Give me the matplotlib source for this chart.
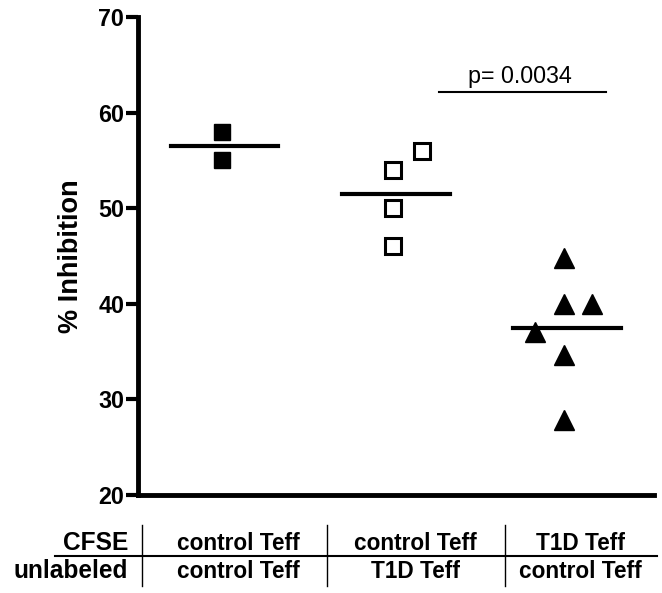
import numpy as np
import matplotlib
matplotlib.use('Agg')
import matplotlib.pyplot as plt
from matplotlib.lines import Line2D
from matplotlib import font_manager

names = set(f.name for f in font_manager.fontManager.ttflist)
narrow = 'Liberation Sans Narrow' in names
plt.rcParams['font.family'] = ['Liberation Sans Narrow', 'Liberation Sans', 'DejaVu Sans'] if narrow \
    else ['Liberation Sans', 'DejaVu Sans']
k = 1.0 if narrow else 0.93  # shrink a bit when no narrow face

# data
g1_x = [1.0, 1.0]
g1_y = [58, 55]
g2_x = [2.0, 2.17, 2.0, 2.0]
g2_y = [54, 56, 50, 46]
g3_x = [3.0, 3.0, 3.16, 2.83, 3.0, 3.0]
g3_y = [44.8, 40, 40, 37, 34.6, 27.8]
means = [56.5, 51.5, 37.5]
p_text = 'p= 0.0034'
row_names = ['CFSE', 'unlabeled']
cfse = ['control Teff', 'control Teff', 'T1D Teff']
unlabeled = ['control Teff', 'T1D Teff', 'control Teff']

fig = plt.figure(figsize=(6.62, 5.93), dpi=100)
ax = fig.add_axes([0.2085, 0.1653, 0.78, 0.806])

ax.plot(g1_x, g1_y, 's', color='k', markersize=11)
ax.plot(g2_x, g2_y, 's', markerfacecolor='white', markeredgecolor='k',
        markeredgewidth=2.2, markersize=11)
ax.plot(g3_x, g3_y, '^', color='k', markersize=14)

for i, m in enumerate(means):
    ax.plot([i + 1 - 0.3, i + 1 + 0.33], [m, m], color='k', lw=3)

# significance bar
ax.plot([2.27, 3.245], [62.2, 62.2], color='k', lw=1.5)
ax.text(2.74, 62.6, p_text, ha='center', va='bottom', fontsize=18 * k,
        fontweight='normal')

ax.set_xlim(0.51, 3.525)
ax.set_ylim(20, 70)
ax.set_yticks([20, 30, 40, 50, 60, 70])
ax.set_xticks([])
for s in ['top', 'right']:
    ax.spines[s].set_visible(False)
for s in ['left', 'bottom']:
    ax.spines[s].set_linewidth(3.5)
ax.tick_params(axis='y', direction='out', length=9, width=3, labelsize=18 * k, pad=1)
for lab in ax.get_yticklabels():
    lab.set_fontweight('bold')
ax.set_ylabel('% Inhibition', fontsize=21 * k, fontweight='bold', labelpad=10)

# table under the axis
W, H = 662, 593
def fx(px):
    return px / W
def fy(py):
    return 1 - py / H

fig.text(fx(128), fy(543), row_names[0], ha='right', va='center',
         fontsize=19 * k, fontweight='bold')
fig.text(fx(128), fy(571), row_names[1], ha='right', va='center',
         fontsize=19 * k, fontweight='bold')
centers = [238, 415, 580]
for c, a, b in zip(centers, cfse, unlabeled):
    fig.text(fx(c), fy(543), a, ha='center', va='center', fontsize=17.5 * k, fontweight='bold')
    fig.text(fx(c), fy(571), b, ha='center', va='center', fontsize=17.5 * k, fontweight='bold')
fig.add_artist(Line2D([fx(55), fx(657)], [fy(556), fy(556)], color='k', lw=1.5))
for vx in [142, 327, 505]:
    fig.add_artist(Line2D([fx(vx), fx(vx)], [fy(525), fy(586)], color='k', lw=1))

fig.savefig('out.png', dpi=100)
